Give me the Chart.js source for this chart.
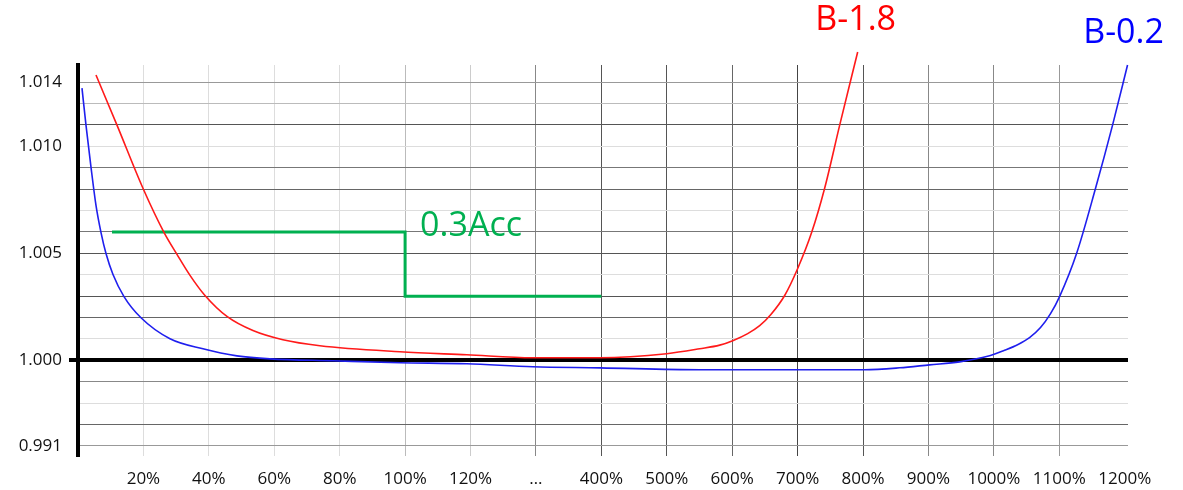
<!DOCTYPE html>
<html>
<head>
<meta charset="utf-8">
<script src="https://cdn.jsdelivr.net/npm/chart.js@4/dist/chart.umd.min.js"></script>
<style>
  html, body { margin: 0; padding: 0; background: #fff; }
  #wrap { width: 1183px; height: 490px; position: relative; }
</style>
</head>
<body>
<div id="wrap"><canvas id="c"></canvas></div>
<script>
// ---- data ----
// x positions are category-slot indices (0 = axis, 1 = "20%", ... 16 = "1200%")
const xTickLabels = ["", "20%", "40%", "60%", "80%", "100%", "120%", "…", "400%", "500%", "600%", "700%", "800%", "900%", "1000%", "1100%", "1200%"];
const yTickValues = [0.996, 0.997, 0.998, 0.999, 1.000, 1.001, 1.002, 1.003, 1.004, 1.005, 1.006, 1.007, 1.008, 1.009, 1.010, 1.011, 1.012, 1.013];
const yTickLabels = ["0.991", "", "", "", "1.000", "", "", "", "", "1.005", "", "", "", "", "1.010", "", "", "1.014"];

const redX = [0.275, 0.596, 0.993, 1.314, 1.513, 1.712, 1.941, 2.277, 2.674, 3.132, 3.697, 4.920, 5.943, 6.952, 7.976, 8.999, 9.503, 9.809, 10.008, 10.237, 10.420, 10.588, 10.802, 11.001, 11.215, 11.413, 11.643, 11.918];
const redY = [1.01333, 1.01099, 1.00804, 1.00598, 1.00495, 1.00397, 1.00303, 1.00205, 1.00139, 1.00096, 1.00068, 1.00040, 1.00026, 1.00012, 1.00012, 1.00031, 1.00054, 1.00071, 1.00092, 1.00125, 1.00162, 1.00213, 1.00303, 1.00429, 1.00598, 1.00804, 1.01099, 1.01441];

const blueX = [0.061, 0.122, 0.199, 0.275, 0.351, 0.428, 0.535, 0.703, 0.963, 1.406, 1.910, 2.429, 2.934, 3.896, 4.920, 5.943, 6.952, 7.976, 9.503, 11.031, 12.024, 12.559, 13.017, 13.476, 13.934, 14.163, 14.362, 14.545, 14.713, 14.866, 15.004, 15.264, 15.554, 15.814, 16.043];
const blueY = [1.01272, 1.01099, 1.00902, 1.00724, 1.00598, 1.00499, 1.00401, 1.00298, 1.00199, 1.00101, 1.00054, 1.00021, 1.00007, 0.99998, 0.99989, 0.99984, 0.99970, 0.99965, 0.99956, 0.99956, 0.99956, 0.99965, 0.99979, 0.99993, 1.00021, 1.00047, 1.00073, 1.00106, 1.00153, 1.00218, 1.00298, 1.00499, 1.00804, 1.01099, 1.01380];

const accX = [0.52, 5.0, 5.0, 8.0];
const accY = [1.006, 1.006, 1.003, 1.003];

const seriesNames = ["B-1.8", "B-0.2", "0.3Acc"];

// ---- styles ----
const yGridColors = ["#999", "#666", "#ddd", "#888", "#000", "#ddd", "#666", "#555", "#ddd", "#555", "#777", "#ddd", "#666", "#777", "#ddd", "#555", "#bbb", "#999"];
const xGridColors = ["rgba(0,0,0,0)", "#ddd", "#ddd", "#ddd", "#ddd", "#bbb", "#ccc", "#888", "#555", "#555", "#666", "#444", "#555", "#888", "#888", "#999", "rgba(0,0,0,0)"];
const FONT = "'Open Sans', 'DejaVu Sans', sans-serif";

const pts = (xs, ys) => xs.map((x, i) => ({ x: x, y: ys[i] }));

const labelPlugin = {
  id: 'seriesLabels',
  afterDatasetsDraw(chart) {
    const ctx = chart.ctx, xs = chart.scales.x, ys = chart.scales.y;
    ctx.save();
    ctx.font = "34px " + FONT;
    ctx.textBaseline = 'middle';
    ctx.textAlign = 'center';
    ctx.fillStyle = '#ff0000';
    ctx.fillText(seriesNames[0], xs.getPixelForValue(redX[redX.length - 1]) - 2, 20);
    ctx.fillStyle = '#0000ff';
    ctx.fillText(seriesNames[1], xs.getPixelForValue(blueX[blueX.length - 1]) - 4, 33);
    ctx.fillStyle = '#00b050';
    ctx.textAlign = 'left';
    ctx.fillText(seriesNames[2], xs.getPixelForValue(accX[1]) + 15, ys.getPixelForValue(accY[0]) - 6);
    ctx.restore();
  }
};

new Chart(document.getElementById('c'), {
  type: 'line',
  data: {
    datasets: [
      { label: seriesNames[0], data: pts(redX, redY), borderColor: '#ff1a1a', borderWidth: 1.6, pointRadius: 0, cubicInterpolationMode: 'monotone', clip: false },
      { label: seriesNames[1], data: pts(blueX, blueY), borderColor: '#1f1fee', borderWidth: 1.6, pointRadius: 0, cubicInterpolationMode: 'monotone', clip: false },
      { label: seriesNames[2], data: pts(accX, accY), borderColor: '#00b050', borderWidth: 3, pointRadius: 0, tension: 0, clip: false }
    ]
  },
  options: {
    responsive: true,
    maintainAspectRatio: false,
    animation: false,
    layout: { padding: { left: 0, top: 65, right: 55, bottom: 0 } },
    plugins: { legend: { display: false }, tooltip: { enabled: false } },
    scales: {
      x: {
        type: 'linear',
        min: 0,
        max: 16.05,
        afterBuildTicks: (s) => { s.ticks = xTickLabels.map((_, i) => ({ value: i })); },
        afterFit: (s) => { s.height = 34; },
        border: { display: false },
        grid: {
          drawTicks: false,
          lineWidth: 1,
          color: (c) => xGridColors[c.index] || 'rgba(0,0,0,0)'
        },
        ticks: {
          autoSkip: false,
          maxRotation: 0,
          padding: 13,
          color: '#111',
          font: { family: FONT, size: 17 },
          callback: (v, i) => xTickLabels[i]
        }
      },
      y: {
        type: 'linear',
        min: 0.99553,
        max: 1.0138,
        afterBuildTicks: (s) => { s.ticks = yTickValues.map(v => ({ value: v })); },
        afterFit: (s) => { s.width = 78; },
        border: { display: true, color: '#000', width: 4 },
        grid: {
          drawTicks: true,
          tickLength: 9,
          color: (c) => yGridColors[c.index] || '#ccc',
          lineWidth: (c) => yTickLabels[c.index] === "1.000" ? 4 : 1,
          tickColor: (c) => yTickLabels[c.index] === "1.000" ? '#000' : 'rgba(0,0,0,0)',
          tickWidth: (c) => yTickLabels[c.index] === "1.000" ? 4 : 1
        },
        ticks: {
          autoSkip: false,
          padding: 7,
          color: '#111',
          font: { family: FONT, size: 17 },
          callback: (v, i) => yTickLabels[i]
        }
      }
    }
  },
  plugins: [labelPlugin]
});
</script>
</body>
</html>
